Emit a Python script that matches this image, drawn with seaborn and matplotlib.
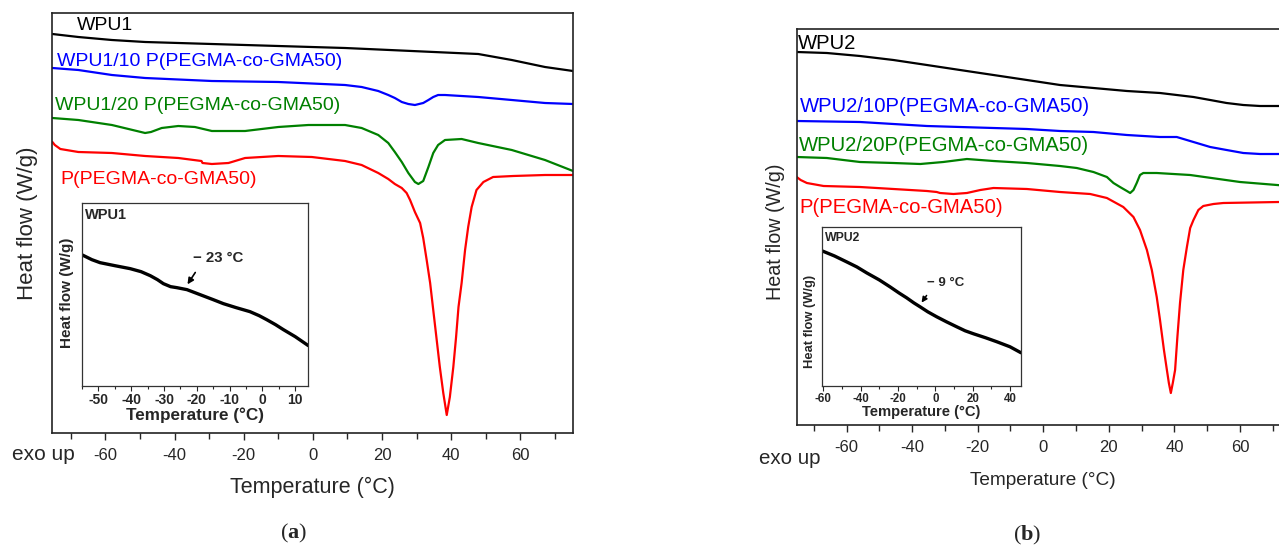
import matplotlib
matplotlib.use("Agg")
import matplotlib.pyplot as plt
from matplotlib.ticker import MultipleLocator, NullLocator
import seaborn as sns

# ---- panel (a): WPU1 series, temperature (°C) vs heat flow (a.u., exo up) ----
black_a_t = [-75.3, -67.8, -58.1, -48.5, -29.2, -10.0, 9.3, 28.6, 47.8, 57.5, 67.1, 75.2]
black_a_hf = [39.9, 39.6, 39.3, 39.1, 38.9, 38.7, 38.5, 38.2, 37.9, 37.3, 36.6, 36.2]
blue_a_t = [-75.3, -67.8, -58.1, -48.5, -29.2, -10.0, 9.3, 14.1, 18.9, 21.8, 23.7, 25.7, 27.6,
            29.5, 31.9, 33.4, 34.8, 36.2, 38.2, 47.8, 57.5, 67.1, 75.2]
blue_a_hf = [36.5, 36.3, 35.8, 35.5, 35.2, 35.1, 34.8, 34.6, 34.2, 33.8, 33.5, 33.1, 32.9,
             32.8, 33.0, 33.3, 33.6, 33.8, 33.8, 33.6, 33.3, 33.0, 32.9]
green_a_t = [-75.3, -67.8, -58.1, -53.3, -48.5, -46.8, -43.7, -38.9, -34.1, -29.2, -24.4, -19.6,
             -10.0, -1.3, 9.3, 14.1, 18.9, 21.8, 23.7, 25.7, 27.6, 29.5, 30.5, 31.9, 33.4, 34.8,
             36.2, 38.2, 43.0, 47.8, 57.5, 67.1, 75.2]
green_a_hf = [31.5, 31.3, 30.8, 30.4, 30.0, 30.1, 30.5, 30.7, 30.6, 30.2, 30.2, 30.2,
              30.6, 30.8, 30.8, 30.5, 29.8, 29.0, 28.1, 27.1, 26.0, 25.1, 24.9, 25.2, 26.6, 28.0,
              28.8, 29.3, 29.4, 29.0, 28.3, 27.3, 26.2]
red_a_t = [-75.3, -74.6, -73.0, -67.8, -58.1, -48.5, -38.9, -32.2, -31.9, -29.2, -24.4, -19.6,
           -10.0, -0.3, 9.3, 14.1, 18.9, 21.8, 23.7, 25.7, 27.1, 28.1, 29.5, 31.0, 31.9, 32.9,
           33.9, 34.8, 35.8, 36.7, 37.7, 38.7, 39.6, 40.6, 41.4, 42.1, 43.0, 44.0, 44.9, 45.9,
           47.3, 49.3, 52.1, 57.9, 67.1, 75.2]
red_a_hf = [29.1, 28.8, 28.4, 28.1, 28.0, 27.7, 27.5, 27.2, 27.0, 26.9, 27.0, 27.5,
            27.7, 27.6, 27.2, 26.8, 26.0, 25.4, 24.9, 24.5, 24.0, 23.3, 22.1, 21.0, 19.5, 17.3,
            15.0, 12.3, 9.3, 6.6, 4.0, 1.8, 3.6, 6.6, 9.6, 12.6, 15.0, 18.3, 20.6, 22.6,
            24.3, 25.1, 25.6, 25.7, 25.8, 25.8]
labels_a = ["WPU1", "WPU1/10 P(PEGMA-co-GMA50)", "WPU1/20 P(PEGMA-co-GMA50)", "P(PEGMA-co-GMA50)"]
label_pos_a = [(-68.3, 40.8), (-74.0, 37.1), (-74.6, 32.7), (-72.9, 25.3)]

inset_a_t = [-55.1, -52.0, -49.5, -45.0, -40.3, -37.0, -34.2, -32.0, -30.2, -28.0, -26.1, -23.0,
             -19.0, -15.0, -11.9, -8.0, -3.8, -1.0, 1.3, 4.0, 6.4, 10.0, 14.0]
inset_a_hf = [13.1, 12.6, 12.3, 12.0, 11.7, 11.4, 11.0, 10.6, 10.2, 9.9, 9.8, 9.6,
              9.1, 8.6, 8.2, 7.8, 7.4, 7.0, 6.6, 6.1, 5.6, 4.9, 4.0]

# ---- panel (b): WPU2 series ----
black_b_t = [-75.2, -66.0, -55.9, -45.7, -35.5, -25.4, -15.2, -5.0, 5.1, 15.3, 25.5, 35.6,
             45.8, 50.9, 55.9, 61.0, 66.1, 75.0]
black_b_hf = [37.3, 37.2, 36.9, 36.5, 36.0, 35.5, 35.0, 34.5, 34.0, 33.7, 33.4, 33.2,
              32.8, 32.5, 32.2, 32.0, 31.9, 31.9]
blue_b_t = [-75.2, -55.9, -45.7, -35.5, -25.4, -15.2, -5.0, 5.1, 15.3, 25.5, 35.6, 40.7,
            45.8, 50.9, 55.9, 61.0, 66.1, 75.0]
blue_b_hf = [30.4, 30.3, 30.1, 29.9, 29.8, 29.7, 29.6, 29.4, 29.3, 29.0, 28.8, 28.8,
             28.3, 27.8, 27.5, 27.2, 27.1, 27.1]
green_b_t = [-75.2, -66.0, -55.9, -45.7, -37.5, -30.5, -23.3, -15.2, -5.0, 5.1, 10.2, 15.3,
             19.4, 21.4, 23.4, 25.5, 26.5, 27.5, 28.5, 29.5, 30.5, 34.6, 44.8, 60.0, 75.0]
green_b_hf = [26.8, 26.7, 26.3, 26.2, 26.1, 26.3, 26.6, 26.4, 26.2, 25.9, 25.7, 25.3,
              24.8, 24.2, 23.8, 23.4, 23.2, 23.5, 24.2, 25.0, 25.2, 25.2, 25.0, 24.3, 23.9]
red_b_t = [-75.2, -74.0, -72.1, -67.0, -55.9, -45.7, -35.5, -32.5, -31.5, -27.4, -23.3, -19.2,
           -15.2, -5.0, 5.1, 14.3, 19.4, 24.4, 27.5, 29.5, 31.6, 33.1, 34.6, 35.6, 36.8, 37.7,
           38.3, 38.9, 39.5, 40.2, 40.9, 41.7, 42.7, 43.8, 44.8, 45.8, 47.3, 48.8, 51.9, 54.9,
           71.9, 75.0]
red_b_hf = [24.8, 24.5, 24.2, 23.9, 23.8, 23.6, 23.4, 23.3, 23.2, 23.1, 23.2, 23.5,
            23.7, 23.6, 23.3, 23.1, 22.7, 21.8, 20.8, 19.5, 17.5, 15.5, 12.8, 10.5, 7.5, 5.5,
            4.2, 3.2, 4.2, 5.5, 8.8, 12.2, 15.5, 17.8, 19.7, 20.5, 21.5, 21.9, 22.1, 22.2,
            22.3, 22.3]
labels_b = ["WPU2", "WPU2/10P(PEGMA-co-GMA50)", "WPU2/20P(PEGMA-co-GMA50)", "P(PEGMA-co-GMA50)"]
label_pos_b = [(-74.7, 38.2), (-74.2, 31.9), (-74.4, 28.0), (-74.4, 21.8)]

inset_b_t = [-60.5, -54.0, -47.4, -42.0, -36.7, -30.0, -24.2, -19.5, -15.3, -11.5, -8.1, -4.0,
             0.8, 6.0, 11.5, 16.0, 20.5, 27.0, 33.0, 40.0, 45.9]
inset_b_hf = [13.5, 13.0, 12.4, 11.9, 11.3, 10.6, 9.9, 9.3, 8.8, 8.3, 7.9, 7.4,
              6.9, 6.4, 5.9, 5.5, 5.2, 4.8, 4.4, 3.9, 3.3]

colors = ["black", "#0000ff", "#008000", "#ff0000"]

sns.set_style("ticks")
plt.rcParams["font.family"] = ["Liberation Sans", "DejaVu Sans"]
plt.rcParams["axes.unicode_minus"] = False
plt.rcParams["mathtext.fontset"] = "custom"
plt.rcParams["mathtext.bf"] = "Liberation Serif:bold"
plt.rcParams["mathtext.rm"] = "Liberation Serif"

W, H = 1279, 549
fig = plt.figure(figsize=(W / 100, H / 100), dpi=100)


def px_axes(left, top, right, bottom):
    return fig.add_axes([left / W, 1 - bottom / H, (right - left) / W, (bottom - top) / H])


def draw_main(ax, series, labels, label_pos, xlim, ylim, fs_lab, fs_ylab, xlab_y, ylab_xy):
    for (t, hf), c in zip(series, colors):
        sns.lineplot(x=t, y=hf, ax=ax, color=c, linewidth=1.6, sort=False, estimator=None)
    for txt, (x, y), c in zip(labels, label_pos, colors):
        ax.text(x, y, txt, color=c, fontsize=fs_lab, ha="left", va="center")
    ax.set_xlim(*xlim)
    ax.set_ylim(*ylim)
    ax.xaxis.set_major_locator(MultipleLocator(20))
    ax.xaxis.set_minor_locator(MultipleLocator(10))
    ax.yaxis.set_major_locator(NullLocator())
    ax.tick_params(axis="x", which="major", direction="out", length=5, width=1, labelsize=12, pad=6)
    ax.tick_params(axis="x", which="minor", direction="out", length=4, width=1)
    for s in ax.spines.values():
        s.set_linewidth(1.2)
        s.set_color("#222222")
    ax.set_xlabel("Temperature (°C)", fontsize=fs_ylab - 0.5)
    ax.xaxis.label.set_va("center")
    ax.xaxis.set_label_coords(0.5, xlab_y)
    ax.set_ylabel("Heat flow (W/g)", fontsize=fs_ylab)
    ax.yaxis.label.set_va("center")
    ax.yaxis.set_label_coords(*ylab_xy)


def draw_inset(ax, t, hf, xlim, ylim, major, minor, fs, name, name_xy, xlab_y, ylab_xy):
    sns.lineplot(x=t, y=hf, ax=ax, color="black", linewidth=2.4, sort=False, estimator=None)
    ax.set_xlim(*xlim)
    ax.set_ylim(*ylim)
    ax.xaxis.set_major_locator(MultipleLocator(major))
    ax.xaxis.set_minor_locator(MultipleLocator(minor))
    ax.yaxis.set_major_locator(NullLocator())
    ax.tick_params(axis="x", which="major", direction="out", length=3.5, width=0.8, labelsize=fs, pad=2)
    ax.tick_params(axis="x", which="minor", direction="out", length=2, width=0.8)
    for lab in ax.get_xticklabels():
        lab.set_fontweight("bold")
    for s in ax.spines.values():
        s.set_linewidth(0.9)
        s.set_color("#333333")
    ax.text(*name_xy, name, transform=ax.transAxes, fontsize=fs + 0.5, fontweight="bold",
            ha="left", va="center")
    ax.set_xlabel("Temperature (°C)", fontsize=fs + 2.3, fontweight="bold")
    ax.xaxis.label.set_va("center")
    ax.xaxis.set_label_coords(0.5, xlab_y)
    ax.set_ylabel("Heat flow (W/g)", fontsize=fs + 1, fontweight="bold")
    ax.yaxis.label.set_va("center")
    ax.yaxis.set_label_coords(*ylab_xy)


# panel (a)
ax_a = px_axes(51.7, 13.3, 573, 433)
draw_main(ax_a, [(black_a_t, black_a_hf), (blue_a_t, blue_a_hf), (green_a_t, green_a_hf), (red_a_t, red_a_hf)],
          labels_a, label_pos_a, (-75.5, 75.2), (0, 41.97), 14, 16, -0.129, (-0.0455, 0.5))
ins_a = px_axes(81.7, 202.7, 308.3, 385.6)
draw_inset(ins_a, inset_a_t, inset_a_hf, (-55.1, 14), (0, 18.3), 10, 5, 10, "WPU1", (0.015, 0.933),
           -0.161, (-0.066, 0.506))
ins_a.text(-21.1, 12.75, "− 23 °C", fontsize=10.8, fontweight="bold", ha="left", va="center")
ins_a.annotate("", xy=(-23.3, 9.9), xytext=(-20.0, 11.55),
               arrowprops=dict(arrowstyle="-|>", color="black", lw=1.2, mutation_scale=9))

# panel (b)
ax_b = px_axes(796.7, 29.3, 1289.2, 425)
draw_main(ax_b, [(black_b_t, black_b_hf), (blue_b_t, blue_b_hf), (green_b_t, green_b_hf), (red_b_t, red_b_hf)],
          labels_b, label_pos_b, (-75.2, 75), (0, 39.57), 14.6, 14.2, -0.139, (-0.044, 0.4885))
ins_b = px_axes(822.3, 226.7, 1021, 385.7)
draw_inset(ins_b, inset_b_t, inset_b_hf, (-60.5, 45.9), (0, 15.93), 20, 10, 8.3, "WPU2", (0.014, 0.929),
           -0.1635, (-0.062, 0.4025))
ins_b.text(-4.45, 10.3, "− 9 °C", fontsize=9.5, fontweight="bold", ha="left", va="center")
ins_b.annotate("", xy=(-8.2, 8.1), xytext=(-3.8, 9.27),
               arrowprops=dict(arrowstyle="-|>", color="black", lw=1.1, mutation_scale=8))

# corner notes and panel letters
fig.text(11.5 / W, 1 - 455 / H, "exo up", fontsize=15, ha="left", va="center")
fig.text(759 / W, 1 - 458 / H, "exo up", fontsize=14.8, ha="left", va="center")
fig.text(293.7 / W, 1 - 533 / H, r"($\mathbf{a}$)", fontsize=16, family="Liberation Serif",
         ha="center", va="center")
fig.text(1027 / W, 1 - 535 / H, r"($\mathbf{b}$)", fontsize=16, family="Liberation Serif",
         ha="center", va="center")

fig.savefig("out.png", dpi=100)
